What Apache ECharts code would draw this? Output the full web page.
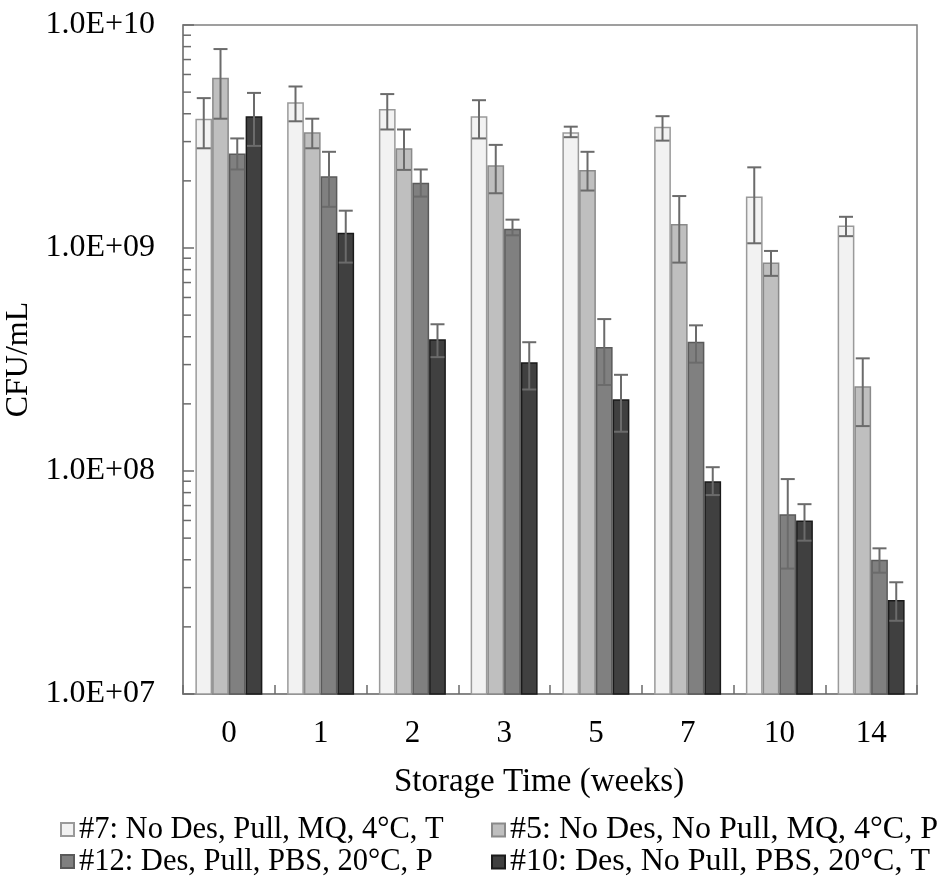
<!DOCTYPE html>
<html>
<head>
<meta charset="utf-8">
<title>CFU/mL vs storage time</title>
<script src="https://cdn.jsdelivr.net/npm/echarts@6/dist/echarts.min.js"></script>
<style>
  html, body { margin: 0; padding: 0; background: #fff; }
  #chart { width: 948px; height: 879px; }
</style>
</head>
<body>
<div id="chart"></div>
<script>
// Storage time points (weeks)
const weeks = ['0', '1', '2', '3', '5', '7', '10', '14'];

// Formulation names
const names = [
  '#7: No Des, Pull, MQ, 4°C, T',
  '#5: No Des, No Pull, MQ, 4°C, P',
  '#12: Des, Pull, PBS, 20°C, P',
  '#10: Des, No Pull, PBS, 20°C, T'
];

// Viable counts (CFU/mL) and error-bar limits
const f7Mean = [3.8e9, 4.5e9, 4.2e9, 3.9e9, 3.3e9, 3.5e9, 1.7e9, 1.26e9];
const f7High = [4.7e9, 5.3e9, 4.9e9, 4.6e9, 3.5e9, 3.9e9, 2.3e9, 1.38e9];
const f7Low  = [2.8e9, 3.7e9, 3.4e9, 3.1e9, 3.14e9, 3.03e9, 1.05e9, 1.13e9];

const f5Mean = [5.8e9, 3.3e9, 2.8e9, 2.35e9, 2.24e9, 1.28e9, 8.6e8, 2.4e8];
const f5High = [7.8e9, 3.8e9, 3.4e9, 2.9e9, 2.7e9, 1.71e9, 9.7e8, 3.2e8];
const f5Low  = [3.8e9, 2.8e9, 2.24e9, 1.76e9, 1.81e9, 8.6e8, 7.5e8, 1.59e8];

const f12Mean = [2.65e9, 2.1e9, 1.96e9, 1.22e9, 3.6e8, 3.8e8, 6.4e7, 4.0e7];
const f12High = [3.1e9, 2.7e9, 2.25e9, 1.34e9, 4.8e8, 4.5e8, 9.2e7, 4.5e7];
const f12Low  = [2.25e9, 1.53e9, 1.70e9, 1.14e9, 2.43e8, 3.06e8, 3.65e7, 3.5e7];

const f10Mean = [3.9e9, 1.17e9, 3.9e8, 3.07e8, 2.1e8, 9.0e7, 6.0e7, 2.64e7];
const f10High = [4.96e9, 1.47e9, 4.55e8, 3.78e8, 2.7e8, 1.04e8, 7.1e7, 3.17e7];
const f10Low  = [2.87e9, 8.6e8, 3.24e8, 2.32e8, 1.5e8, 7.8e7, 4.87e7, 2.13e7];

// Minor tick values on the log axis
const minorTickValues = [
  2e7, 3e7, 4e7, 5e7, 6e7, 7e7, 8e7, 9e7,
  2e8, 3e8, 4e8, 5e8, 6e8, 7e8, 8e8, 9e8,
  2e9, 3e9, 4e9, 5e9, 6e9, 7e9, 8e9, 9e9
];

const means = [f7Mean, f5Mean, f12Mean, f10Mean];
const highs = [f7High, f5High, f12High, f10High];
const lows  = [f7Low, f5Low, f12Low, f10Low];

const fills   = ['#f2f2f2', '#bfbfbf', '#808080', '#404040'];
const borders = ['#9a9a9a', '#8a8a8a', '#5a5a5a', '#1a1a1a'];

const FONT = "'Liberation Serif', 'Times New Roman', serif";
const GAP = 0.27;       // category gap fraction
const nSeries = 4;

const chart = echarts.init(document.getElementById('chart'), null, { renderer: 'canvas' });

const series = [];

means.forEach((m, i) => {
  series.push({
    name: names[i],
    type: 'bar',
    data: m,
    barGap: '0%',
    barCategoryGap: (GAP * 100) + '%',
    clip: true,
    itemStyle: { color: fills[i], borderColor: borders[i], borderWidth: 1.5 },
    z: 2
  });
});

// Error bars drawn over each bar
means.forEach((m, i) => {
  series.push({
    type: 'custom',
    name: names[i] + ' err',
    silent: true,
    z: 5,
    data: weeks.map((w, k) => [k, lows[i][k], highs[i][k]]),
    renderItem: function (params, api) {
      const k = api.value(0);
      const band = api.size([1, 0])[0];
      const bw = band * (1 - GAP) / nSeries;
      const off = (i - (nSeries - 1) / 2) * bw;
      const lo = api.coord([k, api.value(1)]);
      const hi = api.coord([k, api.value(2)]);
      const x = lo[0] + off;
      const cap = 7;
      const style = { stroke: '#6b6b6b', lineWidth: 2, fill: null };
      return {
        type: 'group',
        children: [
          { type: 'line', shape: { x1: x, y1: lo[1], x2: x, y2: hi[1] }, style: style },
          { type: 'line', shape: { x1: x - cap, y1: hi[1], x2: x + cap, y2: hi[1] }, style: style },
          { type: 'line', shape: { x1: x - cap, y1: lo[1], x2: x + cap, y2: lo[1] }, style: style }
        ]
      };
    }
  });
});

// Minor ticks along the inside of the value axis
series.push({
  type: 'custom',
  name: 'minor ticks',
  silent: true,
  z: 6,
  clip: false,
  data: minorTickValues.map(v => [0, v]),
  renderItem: function (params, api) {
    const p = api.coord([0, api.value(1)]);
    const band = api.size([1, 0])[0];
    const x0 = p[0] - band / 2;
    return {
      type: 'line',
      shape: { x1: x0, y1: p[1], x2: x0 + 8, y2: p[1] },
      style: { stroke: '#6b6b6b', lineWidth: 1.5 }
    };
  }
});

function legendAt(name, left, top, size) {
  return {
    data: [name],
    left: left,
    top: top,
    orient: 'horizontal',
    itemWidth: 13,
    itemHeight: 13,
    icon: 'rect',
    selectedMode: false,
    textStyle: { fontFamily: FONT, fontSize: size, color: '#000' }
  };
}

const option = {
  animation: false,
  backgroundColor: '#fff',
  grid: {
    left: 183, right: 31, top: 25, bottom: 185,
    show: true, borderColor: '#808080', borderWidth: 1.5,
    containLabel: false,
    outerBoundsMode: 'none'
  },
  legend: [
    legendAt(names[0], 55, 809, 30.5),
    legendAt(names[1], 486, 809, 32),
    legendAt(names[2], 55, 841, 30.5),
    legendAt(names[3], 486, 841, 32)
  ],
  xAxis: {
    type: 'category',
    data: weeks,
    name: 'Storage Time (weeks)',
    nameLocation: 'middle',
    nameGap: 72,
    nameTextStyle: { fontFamily: FONT, fontSize: 33, color: '#000', padding: [0, 22, 0, 0] },
    axisLine: { lineStyle: { color: '#808080', width: 1.5 } },
    axisTick: { show: true, inside: true, length: 9, lineStyle: { color: '#6b6b6b', width: 1.5 } },
    axisLabel: { fontFamily: FONT, fontSize: 31, color: '#000', margin: 24 },
    splitLine: { show: false }
  },
  yAxis: {
    type: 'log',
    logBase: 10,
    min: 1e7,
    max: 1e10,
    name: 'CFU/mL',
    nameLocation: 'middle',
    nameGap: 143,
    nameTextStyle: { fontFamily: FONT, fontSize: 32, color: '#000' },
    axisLine: { show: true, lineStyle: { color: '#808080', width: 1.5 } },
    axisTick: { show: true, inside: true, length: 11, lineStyle: { color: '#6b6b6b', width: 1.5 } },
    axisLabel: {
      fontFamily: FONT, fontSize: 32, color: '#000', margin: 28,
      formatter: function (v) {
        const e = Math.round(Math.log10(v));
        return '1.0E+' + (e < 10 ? '0' + e : '' + e);
      }
    },
    splitLine: { show: false }
  },
  series: series
};

chart.setOption(option);
</script>
</body>
</html>
